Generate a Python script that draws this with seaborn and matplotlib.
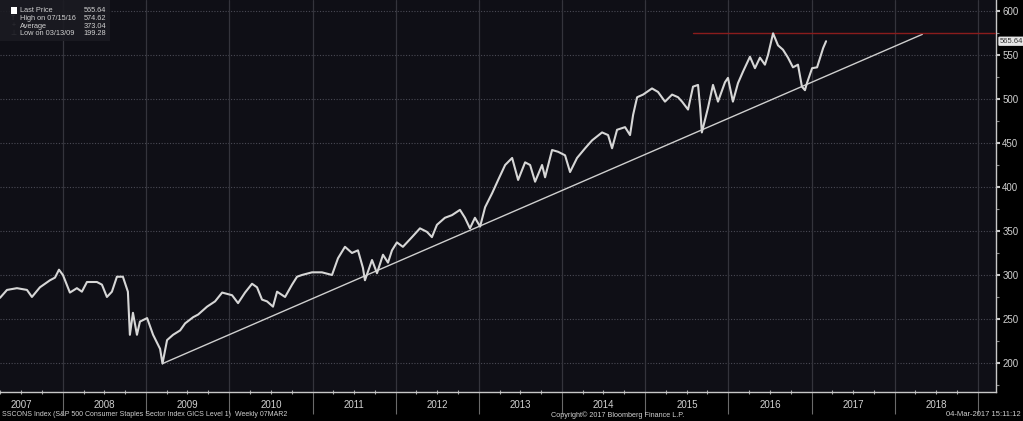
import numpy as np
import pandas as pd
import matplotlib
matplotlib.use("Agg")
import matplotlib.pyplot as plt
import matplotlib.dates as mdates
import matplotlib.ticker as mticker
import seaborn as sns

# ---------------- data ----------------
dec_years = [
    2007.243, 2007.327, 2007.447, 2007.567, 2007.627, 2007.723, 2007.844, 2007.904, 2007.952,
    2008.000, 2008.084, 2008.168, 2008.228, 2008.289, 2008.409, 2008.469, 2008.529, 2008.589,
    2008.649, 2008.721, 2008.781, 2008.805, 2008.842, 2008.890, 2008.926, 2009.010, 2009.082,
    2009.166, 2009.195, 2009.250, 2009.322, 2009.407, 2009.467, 2009.563, 2009.623, 2009.731,
    2009.827, 2009.912, 2010.032, 2010.104, 2010.188, 2010.272, 2010.332, 2010.392, 2010.452,
    2010.524, 2010.573, 2010.669, 2010.753, 2010.813, 2010.873, 2010.993, 2011.113, 2011.234,
    2011.306, 2011.390, 2011.474, 2011.546, 2011.606, 2011.630, 2011.715, 2011.775, 2011.847,
    2011.907, 2011.955, 2012.015, 2012.087, 2012.196, 2012.292, 2012.376, 2012.436, 2012.496,
    2012.592, 2012.677, 2012.773, 2012.833, 2012.893, 2012.953, 2013.013, 2013.073, 2013.158,
    2013.230, 2013.314, 2013.398, 2013.470, 2013.554, 2013.614, 2013.674, 2013.758, 2013.794,
    2013.878, 2013.951, 2014.035, 2014.095, 2014.179, 2014.276, 2014.360, 2014.480, 2014.552,
    2014.600, 2014.660, 2014.756, 2014.816, 2014.853, 2014.901, 2014.973, 2015.081, 2015.153,
    2015.237, 2015.322, 2015.394, 2015.442, 2015.514, 2015.574, 2015.634, 2015.660, 2015.680,
    2015.754, 2015.814, 2015.874, 2015.958, 2015.994, 2016.054, 2016.115, 2016.175, 2016.259,
    2016.319, 2016.379, 2016.439, 2016.476, 2016.537, 2016.596, 2016.656, 2016.716, 2016.776,
    2016.836, 2016.884, 2016.920, 2016.944, 2017.004, 2017.064, 2017.101, 2017.137, 2017.172,
]
prices = [
    274, 283, 285, 283, 275, 286, 294, 297, 306,
    300, 280, 285, 281, 292, 292, 289, 275, 281,
    298, 298, 281, 232, 257, 232, 247, 251, 232,
    216, 199.28, 226, 232, 237, 245, 252, 255, 264,
    270, 280, 277, 268, 280, 290, 286, 272, 270,
    264, 281, 275, 289, 298, 300, 303, 303, 300,
    319, 332, 325, 328, 308, 294, 317, 302, 323,
    314, 328, 337, 332, 343, 353, 349, 343, 357,
    365, 368, 374, 365, 353, 365, 355, 377, 393,
    408, 425, 433, 408, 428, 425, 406, 425, 411,
    442, 440, 436, 417, 433, 444, 453, 462, 459,
    444, 465, 468, 459, 482, 502, 505, 512, 508,
    497, 505, 502, 497, 488, 514, 516, 490, 462,
    490, 516, 497, 519, 524, 497, 518, 531, 548,
    535, 547, 539, 550, 574.62, 561, 556, 547, 536,
    539, 514, 510, 518, 535, 536, 547, 558, 565.64,
]
trend_years = [2009.195, 2018.33]
trend_values = [199.28, 573.5]
high_line_years = [2015.574, 2019.3]
high_value = 574.62
last_price = 565.64
year_labels = [str(y) for y in range(2007, 2019)]
y_ticks = list(range(200, 601, 50))

legend_rows = [("Last Price", "565.64"), ("High on 07/15/16", "574.62"),
               ("Average", "373.04"), ("Low on 03/13/09", "199.28")]
footer_left = "SSCONS Index (S&P 500 Consumer Staples Sector Index GICS Level 1)  Weekly 07MAR2"
footer_mid = "Copyright\u00a9 2017 Bloomberg Finance L.P."
footer_right = "04-Mar-2017 15:11:12"


def to_date(y):
    yr = int(np.floor(y))
    return pd.Timestamp(yr, 1, 1) + pd.Timedelta(days=(y - yr) * 365.25)


df = pd.DataFrame({"date": [to_date(y) for y in dec_years], "price": prices})

# ---------------- style ----------------
sns.set_theme(style="dark")
plt.rcParams["font.family"] = ["Liberation Sans", "DejaVu Sans"]

BG = "#000000"
PLOT_BG = "#0f0f16"
AX_COL = "#c8c8c8"
TXT = "#d0d0d0"

fig = plt.figure(figsize=(10.23, 4.21), dpi=100, facecolor=BG)
ax = fig.add_axes([0.0, (421 - 392) / 421, 996 / 1023, 392 / 421])
ax.set_facecolor(PLOT_BG)

# grid
for yv in y_ticks:
    ax.axhline(yv, color="#4a4a55", lw=0.8, ls=(0, (1, 1.5)), zorder=1)
for yr in range(2008, 2020):
    ax.axvline(pd.Timestamp(yr, 1, 1), color="#34343c", lw=0.9, zorder=1)

# series
sns.lineplot(data=df, x="date", y="price", ax=ax, color="#d6d6d6", lw=1.5, zorder=4)

# trend line and high line
ax.plot([to_date(t) for t in trend_years], trend_values, color="#cfcfcf", lw=1.0, zorder=3)
ax.plot([to_date(t) for t in high_line_years], [high_value, high_value],
        color="#8a1c1c", lw=1.0, zorder=3)

ax.set_xlim(to_date(2007.243), to_date(2019.216))
ax.set_ylim(167, 612.5)
ax.set_xlabel("")
ax.set_ylabel("")

# spines
for s in ["top", "left"]:
    ax.spines[s].set_visible(False)
for s in ["bottom", "right"]:
    ax.spines[s].set_visible(True)
    ax.spines[s].set_color(AX_COL)
    ax.spines[s].set_linewidth(1.0)

# y axis on right
ax.yaxis.tick_right()
ax.yaxis.set_major_locator(mticker.FixedLocator(y_ticks))
ax.yaxis.set_minor_locator(mticker.FixedLocator([v + 25 for v in y_ticks[:-1]] + [175]))
ax.tick_params(axis="y", which="major", direction="out", length=3, width=1.5,
               color=AX_COL, labelcolor=TXT, labelsize=7, pad=1.5, right=True, left=False)
ax.tick_params(axis="y", which="minor", direction="out", length=2, width=0.8,
               color="#888888", right=True, left=False)

# x axis: long separators at year starts, labels at mid-year
ax.xaxis.set_major_locator(mdates.YearLocator())
ax.xaxis.set_major_formatter(mticker.NullFormatter())
ax.tick_params(axis="x", which="major", direction="out", length=16, width=0.8,
               color="#6a6a6a", bottom=True)
ax.xaxis.set_minor_locator(mdates.MonthLocator(bymonth=[4, 7, 10]))
ax.tick_params(axis="x", which="minor", direction="inout", length=3, width=0.8,
               color="#aaaaaa", bottom=True)
ax.xaxis.set_minor_formatter(mticker.NullFormatter())
for lab in year_labels:
    ax.text(to_date(int(lab) + 0.5), -0.02, lab, transform=ax.get_xaxis_transform(),
            ha="center", va="top", color=TXT, fontsize=7, clip_on=False)

# last price tag
ax.annotate(f"{last_price:.2f}", xy=(1.0, last_price), xycoords=("axes fraction", "data"),
            xytext=(2.5, 0), textcoords="offset points", ha="left", va="center",
            fontsize=5.5, color="#333333", annotation_clip=False,
            bbox=dict(boxstyle="round,pad=0.15", fc="#e6e6e6", ec="none"))

# legend box (top-left)
fig.patches.append(plt.Rectangle((0, 1 - 41 / 421), 110 / 1023, 41 / 421,
                                 transform=fig.transFigure, fc="#1b1b22", ec="none",
                                 alpha=0.9, zorder=5))
row_y = [10.7, 18.3, 26.0, 33.5]
for (lab, val), ry in zip(legend_rows, row_y):
    fy = 1 - ry / 421
    fig.text(20 / 1023, fy, lab, color=TXT, fontsize=5.3, va="center", ha="left", zorder=6)
    fig.text(106 / 1023, fy, val, color=TXT, fontsize=5.3, va="center", ha="right", zorder=6)
fig.patches.append(plt.Rectangle((11 / 1023, 1 - 14 / 421), 6 / 1023, 7 / 421,
                                 transform=fig.transFigure, fc="#ffffff", ec="none", zorder=6))
fig.text(13.5 / 1023, 1 - 18.3 / 421, "T", color=TXT, fontsize=5, ha="center", va="center")
fig.text(13.5 / 1023, 1 - 26.0 / 421, "+", color=TXT, fontsize=5, ha="center", va="center")
fig.text(13.5 / 1023, 1 - 33.5 / 421, "\u22a5", color=TXT, fontsize=5, ha="center", va="center")

# footer
fig.text(2 / 1023, 1 - 415 / 421, footer_left, color=TXT, fontsize=5.0, ha="left", va="center")
fig.text(551 / 1023, 1 - 415 / 421, footer_mid, color=TXT, fontsize=5.2, ha="left", va="center")
fig.text(1021 / 1023, 1 - 415 / 421, footer_right, color=TXT, fontsize=5.5, ha="right", va="center")

fig.savefig("out.png", dpi=100, facecolor=BG)
